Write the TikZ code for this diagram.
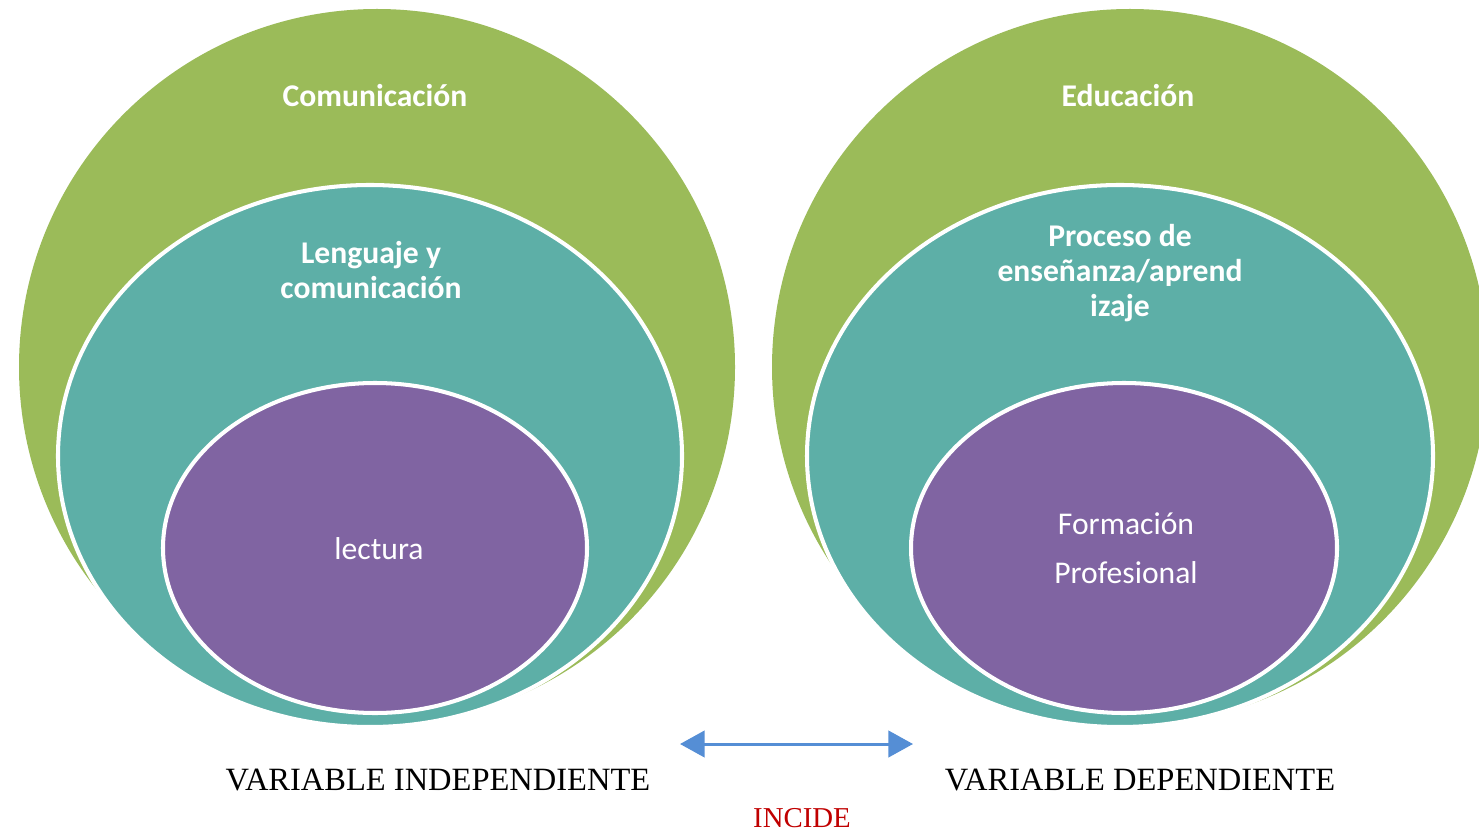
\documentclass[tikz,border=0pt]{standalone}
\usepackage{fontspec}
\setmainfont{Liberation Serif}
\newfontfamily\calibri{Carlito}
\usetikzlibrary{arrows.meta}

\definecolor{olivo}{HTML}{9BBB59}
\definecolor{verdeazul}{HTML}{5DAFA7}
\definecolor{lila}{HTML}{8064A2}
\definecolor{flecha}{HTML}{558ED5}
\definecolor{rojo}{HTML}{C00000}

\begin{document}
\begin{tikzpicture}[x=0.02cm, y=-0.02cm,
  capa/.style={draw=white, line width=2.3pt},
  titulo/.style={text=white, font=\calibri\bfseries\fontsize{18}{19.8}\selectfont, align=center},
  interior/.style={text=white, font=\calibri\fontsize{18}{27.8}\selectfont, align=center},
  textovar/.style={font=\fontsize{18.5}{20}\selectfont}]
\useasboundingbox (0,0) rectangle (1479,834);
\clip (0,0) rectangle (1479,834);

% Left set of circles
\fill[olivo] (377,367) circle (358);
\filldraw[capa, fill=verdeazul] (370,456) ellipse (312 and 271);
\filldraw[capa, fill=lila] (375,548) ellipse (212 and 165);

% Right set of circles
\fill[olivo] (1130,367) circle (358);
\filldraw[capa, fill=verdeazul] (1120,456) ellipse (313 and 271);
\filldraw[capa, fill=lila] (1124,548) ellipse (213 and 165);

% Labels inside the circles
\node[titulo] (comunicacion) at (375,96) {Comunicación};
\node[titulo] (lenguaje) at (371,270) {Lenguaje y\\comunicación};
\node[interior] (lectura) at (379,549) {lectura};
\node[titulo] (educacion) at (1128,96) {Educación};
\node[titulo] (proceso) at (1120,273) {Proceso de\\enseñanza/aprend\\izaje};
\node[interior] (formacion) at (1126,548) {Formación\\Profesional};

% Bottom texts and arrow
\node[textovar] (indep) at (438,780) {VARIABLE INDEPENDIENTE};
\node[textovar] (dep) at (1140,780) {VARIABLE DEPENDIENTE};
\node[text=rojo, font=\fontsize{16.4}{18}\selectfont] (incide) at (802,818) {INCIDE};
\coordinate (flechaL) at (680,744);
\coordinate (flechaR) at (913,744);
\draw[flecha, line width=1.7pt, {Triangle[length=14pt,width=15pt]}-{Triangle[length=14pt,width=15pt]}] (flechaL) -- (flechaR);
\end{tikzpicture}
\end{document}
